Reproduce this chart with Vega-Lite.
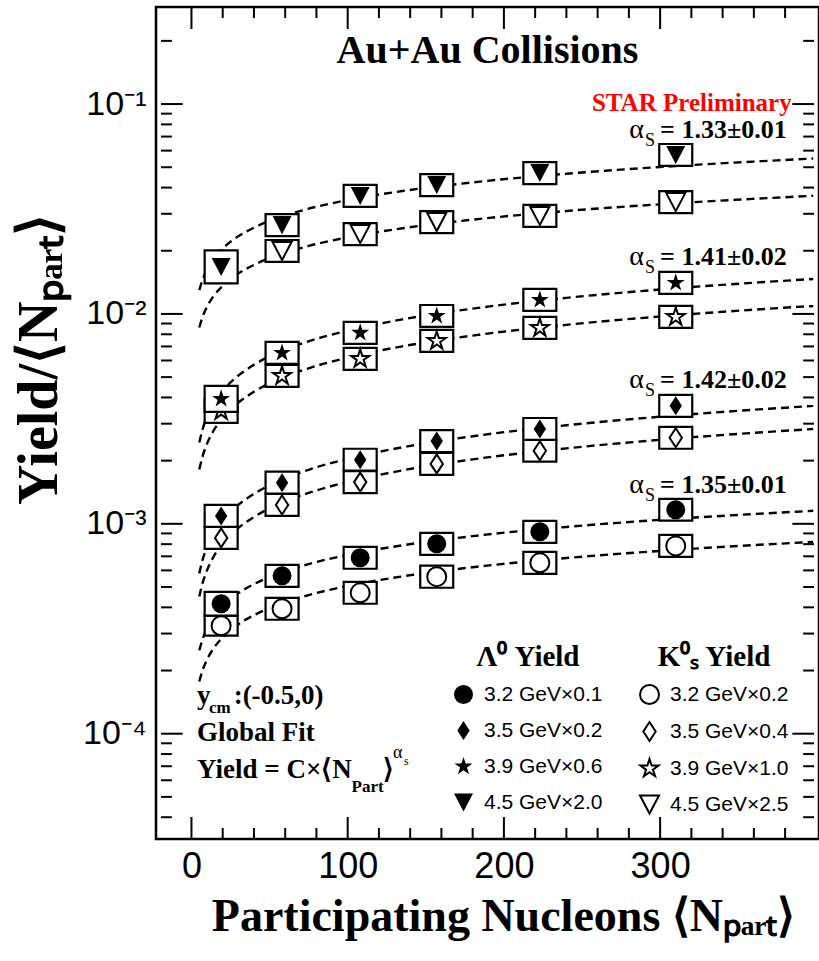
{
  "$schema": "https://vega.github.io/schema/vega-lite/v6.json",
  "width": 663,
  "height": 832,
  "autosize": {"type": "none"},
  "padding": {"left": 156, "top": 7, "right": 0, "bottom": 122},
  "background": "white",
  "config": {
    "view": {"stroke": "black", "strokeWidth": 2.5},
    "axis": {"grid": false, "domain": false}
  },
  "title": {
    "text": "Au+Au Collisions",
    "font": "Liberation Serif",
    "fontSize": 40,
    "fontWeight": "bold",
    "color": "black",
    "anchor": "middle",
    "frame": "group",
    "orient": "top",
    "baseline": "alphabetic",
    "offset": -97
  },
  "datasets": {
    "ticks": [
      {"a": "y", "k": "min", "v": 0.00004}, {"a": "y", "k": "min", "v": 0.00005}, {"a": "y", "k": "min", "v": 0.00006}, {"a": "y", "k": "min", "v": 0.00007}, {"a": "y", "k": "min", "v": 0.00008}, {"a": "y", "k": "min", "v": 0.00009},
      {"a": "y", "k": "maj", "v": 0.0001},
      {"a": "y", "k": "min", "v": 0.0002}, {"a": "y", "k": "min", "v": 0.0003}, {"a": "y", "k": "min", "v": 0.0004}, {"a": "y", "k": "min", "v": 0.0005}, {"a": "y", "k": "min", "v": 0.0006}, {"a": "y", "k": "min", "v": 0.0007}, {"a": "y", "k": "min", "v": 0.0008}, {"a": "y", "k": "min", "v": 0.0009},
      {"a": "y", "k": "maj", "v": 0.001},
      {"a": "y", "k": "min", "v": 0.002}, {"a": "y", "k": "min", "v": 0.003}, {"a": "y", "k": "min", "v": 0.004}, {"a": "y", "k": "min", "v": 0.005}, {"a": "y", "k": "min", "v": 0.006}, {"a": "y", "k": "min", "v": 0.007}, {"a": "y", "k": "min", "v": 0.008}, {"a": "y", "k": "min", "v": 0.009},
      {"a": "y", "k": "maj", "v": 0.01},
      {"a": "y", "k": "min", "v": 0.02}, {"a": "y", "k": "min", "v": 0.03}, {"a": "y", "k": "min", "v": 0.04}, {"a": "y", "k": "min", "v": 0.05}, {"a": "y", "k": "min", "v": 0.06}, {"a": "y", "k": "min", "v": 0.07}, {"a": "y", "k": "min", "v": 0.08}, {"a": "y", "k": "min", "v": 0.09},
      {"a": "y", "k": "maj", "v": 0.1},
      {"a": "y", "k": "min", "v": 0.2},
      {"a": "x", "k": "maj", "v": 0}, {"a": "x", "k": "min", "v": 20}, {"a": "x", "k": "min", "v": 40}, {"a": "x", "k": "min", "v": 60}, {"a": "x", "k": "min", "v": 80},
      {"a": "x", "k": "maj", "v": 100}, {"a": "x", "k": "min", "v": 120}, {"a": "x", "k": "min", "v": 140}, {"a": "x", "k": "min", "v": 160}, {"a": "x", "k": "min", "v": 180},
      {"a": "x", "k": "maj", "v": 200}, {"a": "x", "k": "min", "v": 220}, {"a": "x", "k": "min", "v": 240}, {"a": "x", "k": "min", "v": 260}, {"a": "x", "k": "min", "v": 280},
      {"a": "x", "k": "maj", "v": 300}, {"a": "x", "k": "min", "v": 320}, {"a": "x", "k": "min", "v": 340}, {"a": "x", "k": "min", "v": 360}, {"a": "x", "k": "min", "v": 380}
    ],
    "pts": [
      {"p": "L", "s": "4.5 GeV×2.0", "x": 19, "y": 0.01675, "lo": 0.01398, "hi": 0.02007},
      {"p": "L", "s": "4.5 GeV×2.0", "x": 58, "y": 0.0265, "lo": 0.02349, "hi": 0.02989},
      {"p": "L", "s": "4.5 GeV×2.0", "x": 108, "y": 0.0365, "lo": 0.03236, "hi": 0.04117},
      {"p": "L", "s": "4.5 GeV×2.0", "x": 157, "y": 0.0411, "lo": 0.03644, "hi": 0.04636},
      {"p": "L", "s": "4.5 GeV×2.0", "x": 223, "y": 0.0469, "lo": 0.04158, "hi": 0.0529},
      {"p": "L", "s": "4.5 GeV×2.0", "x": 310, "y": 0.0572, "lo": 0.05071, "hi": 0.06452},
      {"p": "K", "s": "4.5 GeV×2.5", "x": 58, "y": 0.01995, "lo": 0.01769, "hi": 0.0225},
      {"p": "K", "s": "4.5 GeV×2.5", "x": 108, "y": 0.024, "lo": 0.02128, "hi": 0.02707},
      {"p": "K", "s": "4.5 GeV×2.5", "x": 157, "y": 0.0274, "lo": 0.02429, "hi": 0.03091},
      {"p": "K", "s": "4.5 GeV×2.5", "x": 223, "y": 0.0293, "lo": 0.02597, "hi": 0.03305},
      {"p": "K", "s": "4.5 GeV×2.5", "x": 310, "y": 0.0341, "lo": 0.03023, "hi": 0.03846},
      {"p": "L", "s": "3.9 GeV×0.6", "x": 19, "y": 0.00394, "lo": 0.003417, "hi": 0.004543},
      {"p": "L", "s": "3.9 GeV×0.6", "x": 58, "y": 0.00652, "lo": 0.00578, "hi": 0.007355},
      {"p": "L", "s": "3.9 GeV×0.6", "x": 108, "y": 0.00813, "lo": 0.007207, "hi": 0.009171},
      {"p": "L", "s": "3.9 GeV×0.6", "x": 157, "y": 0.00978, "lo": 0.00867, "hi": 0.011032},
      {"p": "L", "s": "3.9 GeV×0.6", "x": 223, "y": 0.01166, "lo": 0.010337, "hi": 0.013152},
      {"p": "L", "s": "3.9 GeV×0.6", "x": 310, "y": 0.01406, "lo": 0.012464, "hi": 0.01586},
      {"p": "K", "s": "3.9 GeV×1.0", "x": 19, "y": 0.00345, "lo": 0.003026, "hi": 0.003933},
      {"p": "K", "s": "3.9 GeV×1.0", "x": 58, "y": 0.00507, "lo": 0.004495, "hi": 0.005719},
      {"p": "K", "s": "3.9 GeV×1.0", "x": 108, "y": 0.00611, "lo": 0.005417, "hi": 0.006892},
      {"p": "K", "s": "3.9 GeV×1.0", "x": 157, "y": 0.00744, "lo": 0.006596, "hi": 0.008392},
      {"p": "K", "s": "3.9 GeV×1.0", "x": 223, "y": 0.00858, "lo": 0.007606, "hi": 0.009678},
      {"p": "K", "s": "3.9 GeV×1.0", "x": 310, "y": 0.00968, "lo": 0.008581, "hi": 0.010919},
      {"p": "L", "s": "3.5 GeV×0.2", "x": 19, "y": 0.00109, "lo": 0.000966, "hi": 0.00123},
      {"p": "L", "s": "3.5 GeV×0.2", "x": 58, "y": 0.00157, "lo": 0.001392, "hi": 0.001771},
      {"p": "L", "s": "3.5 GeV×0.2", "x": 108, "y": 0.00202, "lo": 0.001791, "hi": 0.002279},
      {"p": "L", "s": "3.5 GeV×0.2", "x": 157, "y": 0.00248, "lo": 0.002199, "hi": 0.002797},
      {"p": "L", "s": "3.5 GeV×0.2", "x": 223, "y": 0.00283, "lo": 0.002509, "hi": 0.003192},
      {"p": "L", "s": "3.5 GeV×0.2", "x": 310, "y": 0.00365, "lo": 0.003236, "hi": 0.004117},
      {"p": "K", "s": "3.5 GeV×0.4", "x": 19, "y": 0.000857, "lo": 0.00076, "hi": 0.000967},
      {"p": "K", "s": "3.5 GeV×0.4", "x": 58, "y": 0.00123, "lo": 0.00109, "hi": 0.001387},
      {"p": "K", "s": "3.5 GeV×0.4", "x": 108, "y": 0.00158, "lo": 0.001401, "hi": 0.001782},
      {"p": "K", "s": "3.5 GeV×0.4", "x": 157, "y": 0.00193, "lo": 0.001711, "hi": 0.002177},
      {"p": "K", "s": "3.5 GeV×0.4", "x": 223, "y": 0.00223, "lo": 0.001977, "hi": 0.002515},
      {"p": "K", "s": "3.5 GeV×0.4", "x": 310, "y": 0.00257, "lo": 0.002278, "hi": 0.002899},
      {"p": "L", "s": "3.2 GeV×0.1", "x": 19, "y": 0.000416, "lo": 0.000365, "hi": 0.000474},
      {"p": "L", "s": "3.2 GeV×0.1", "x": 58, "y": 0.000565, "lo": 0.000501, "hi": 0.000637},
      {"p": "L", "s": "3.2 GeV×0.1", "x": 108, "y": 0.000689, "lo": 0.000611, "hi": 0.000777},
      {"p": "L", "s": "3.2 GeV×0.1", "x": 157, "y": 0.000803, "lo": 0.000712, "hi": 0.000906},
      {"p": "L", "s": "3.2 GeV×0.1", "x": 223, "y": 0.000916, "lo": 0.000812, "hi": 0.001033},
      {"p": "L", "s": "3.2 GeV×0.1", "x": 310, "y": 0.001167, "lo": 0.001035, "hi": 0.001316},
      {"p": "K", "s": "3.2 GeV×0.2", "x": 19, "y": 0.000327, "lo": 0.000293, "hi": 0.000365},
      {"p": "K", "s": "3.2 GeV×0.2", "x": 58, "y": 0.000394, "lo": 0.000349, "hi": 0.000444},
      {"p": "K", "s": "3.2 GeV×0.2", "x": 108, "y": 0.000469, "lo": 0.000416, "hi": 0.000529},
      {"p": "K", "s": "3.2 GeV×0.2", "x": 157, "y": 0.00056, "lo": 0.000496, "hi": 0.000632},
      {"p": "K", "s": "3.2 GeV×0.2", "x": 223, "y": 0.000652, "lo": 0.000578, "hi": 0.000735},
      {"p": "K", "s": "3.2 GeV×0.2", "x": 310, "y": 0.000785, "lo": 0.000696, "hi": 0.000885}
    ],
    "curves": [
      {"c": "L4.5", "x": 5, "y": 0.01298}, {"c": "L4.5", "x": 7, "y": 0.0145}, {"c": "L4.5", "x": 10, "y": 0.01631}, {"c": "L4.5", "x": 14, "y": 0.01823}, {"c": "L4.5", "x": 20, "y": 0.0205}, {"c": "L4.5", "x": 28, "y": 0.02291}, {"c": "L4.5", "x": 40, "y": 0.02577}, {"c": "L4.5", "x": 55, "y": 0.02863}, {"c": "L4.5", "x": 75, "y": 0.03172}, {"c": "L4.5", "x": 100, "y": 0.03488}, {"c": "L4.5", "x": 135, "y": 0.03851}, {"c": "L4.5", "x": 180, "y": 0.04234}, {"c": "L4.5", "x": 240, "y": 0.04656}, {"c": "L4.5", "x": 310, "y": 0.05066}, {"c": "L4.5", "x": 398, "y": 0.05501},
      {"c": "K4.5", "x": 5, "y": 0.00862}, {"c": "K4.5", "x": 7, "y": 0.00963}, {"c": "K4.5", "x": 10, "y": 0.01084}, {"c": "K4.5", "x": 14, "y": 0.01211}, {"c": "K4.5", "x": 20, "y": 0.01362}, {"c": "K4.5", "x": 28, "y": 0.01523}, {"c": "K4.5", "x": 40, "y": 0.01713}, {"c": "K4.5", "x": 55, "y": 0.01902}, {"c": "K4.5", "x": 75, "y": 0.02108}, {"c": "K4.5", "x": 100, "y": 0.02317}, {"c": "K4.5", "x": 135, "y": 0.02559}, {"c": "K4.5", "x": 180, "y": 0.02813}, {"c": "K4.5", "x": 240, "y": 0.03094}, {"c": "K4.5", "x": 310, "y": 0.03366}, {"c": "K4.5", "x": 398, "y": 0.03655},
      {"c": "L3.9", "x": 5, "y": 0.00244}, {"c": "L3.9", "x": 7, "y": 0.0028}, {"c": "L3.9", "x": 10, "y": 0.003241}, {"c": "L3.9", "x": 14, "y": 0.003721}, {"c": "L3.9", "x": 20, "y": 0.004307}, {"c": "L3.9", "x": 28, "y": 0.004944}, {"c": "L3.9", "x": 40, "y": 0.005722}, {"c": "L3.9", "x": 55, "y": 0.00652}, {"c": "L3.9", "x": 75, "y": 0.007405}, {"c": "L3.9", "x": 100, "y": 0.008331}, {"c": "L3.9", "x": 135, "y": 0.009422}, {"c": "L3.9", "x": 180, "y": 0.010602}, {"c": "L3.9", "x": 240, "y": 0.011928}, {"c": "L3.9", "x": 310, "y": 0.013249}, {"c": "L3.9", "x": 398, "y": 0.014678},
      {"c": "K3.9", "x": 5, "y": 0.001815}, {"c": "K3.9", "x": 7, "y": 0.002083}, {"c": "K3.9", "x": 10, "y": 0.002411}, {"c": "K3.9", "x": 14, "y": 0.002768}, {"c": "K3.9", "x": 20, "y": 0.003203}, {"c": "K3.9", "x": 28, "y": 0.003677}, {"c": "K3.9", "x": 40, "y": 0.004256}, {"c": "K3.9", "x": 55, "y": 0.00485}, {"c": "K3.9", "x": 75, "y": 0.005508}, {"c": "K3.9", "x": 100, "y": 0.006197}, {"c": "K3.9", "x": 135, "y": 0.007009}, {"c": "K3.9", "x": 180, "y": 0.007886}, {"c": "K3.9", "x": 240, "y": 0.008873}, {"c": "K3.9", "x": 310, "y": 0.009856}, {"c": "K3.9", "x": 398, "y": 0.010918},
      {"c": "L3.5", "x": 5, "y": 0.00058}, {"c": "L3.5", "x": 7, "y": 0.000668}, {"c": "L3.5", "x": 10, "y": 0.000776}, {"c": "L3.5", "x": 14, "y": 0.000894}, {"c": "L3.5", "x": 20, "y": 0.001038}, {"c": "L3.5", "x": 28, "y": 0.001196}, {"c": "L3.5", "x": 40, "y": 0.001389}, {"c": "L3.5", "x": 55, "y": 0.001588}, {"c": "L3.5", "x": 75, "y": 0.001809}, {"c": "L3.5", "x": 100, "y": 0.002041}, {"c": "L3.5", "x": 135, "y": 0.002315}, {"c": "L3.5", "x": 180, "y": 0.002613}, {"c": "L3.5", "x": 240, "y": 0.002948}, {"c": "L3.5", "x": 310, "y": 0.003283}, {"c": "L3.5", "x": 398, "y": 0.003646},
      {"c": "K3.5", "x": 5, "y": 0.00045}, {"c": "K3.5", "x": 7, "y": 0.000519}, {"c": "K3.5", "x": 10, "y": 0.000602}, {"c": "K3.5", "x": 14, "y": 0.000694}, {"c": "K3.5", "x": 20, "y": 0.000806}, {"c": "K3.5", "x": 28, "y": 0.000928}, {"c": "K3.5", "x": 40, "y": 0.001078}, {"c": "K3.5", "x": 55, "y": 0.001233}, {"c": "K3.5", "x": 75, "y": 0.001404}, {"c": "K3.5", "x": 100, "y": 0.001584}, {"c": "K3.5", "x": 135, "y": 0.001797}, {"c": "K3.5", "x": 180, "y": 0.002028}, {"c": "K3.5", "x": 240, "y": 0.002288}, {"c": "K3.5", "x": 310, "y": 0.002548}, {"c": "K3.5", "x": 398, "y": 0.00283},
      {"c": "L3.2", "x": 5, "y": 0.0002493}, {"c": "L3.2", "x": 7, "y": 0.0002804}, {"c": "L3.2", "x": 10, "y": 0.0003177}, {"c": "L3.2", "x": 14, "y": 0.0003574}, {"c": "L3.2", "x": 20, "y": 0.0004049}, {"c": "L3.2", "x": 28, "y": 0.0004555}, {"c": "L3.2", "x": 40, "y": 0.0005161}, {"c": "L3.2", "x": 55, "y": 0.000577}, {"c": "L3.2", "x": 75, "y": 0.0006431}, {"c": "L3.2", "x": 100, "y": 0.0007112}, {"c": "L3.2", "x": 135, "y": 0.00079}, {"c": "L3.2", "x": 180, "y": 0.0008737}, {"c": "L3.2", "x": 240, "y": 0.0009663}, {"c": "L3.2", "x": 310, "y": 0.0010567}, {"c": "L3.2", "x": 398, "y": 0.0011534},
      {"c": "K3.2", "x": 5, "y": 0.0001772}, {"c": "K3.2", "x": 7, "y": 0.0001994}, {"c": "K3.2", "x": 10, "y": 0.0002259}, {"c": "K3.2", "x": 14, "y": 0.0002541}, {"c": "K3.2", "x": 20, "y": 0.0002879}, {"c": "K3.2", "x": 28, "y": 0.0003239}, {"c": "K3.2", "x": 40, "y": 0.000367}, {"c": "K3.2", "x": 55, "y": 0.0004103}, {"c": "K3.2", "x": 75, "y": 0.0004573}, {"c": "K3.2", "x": 100, "y": 0.0005057}, {"c": "K3.2", "x": 135, "y": 0.0005617}, {"c": "K3.2", "x": 180, "y": 0.0006212}, {"c": "K3.2", "x": 240, "y": 0.0006871}, {"c": "K3.2", "x": 310, "y": 0.0007514}, {"c": "K3.2", "x": 398, "y": 0.0008201}
    ],
    "notes": [
      {"r": "val", "x": 381, "y": 0.07516, "t": "= 1.33±0.01"},
      {"r": "val", "x": 381, "y": 0.01868, "t": "= 1.41±0.02"},
      {"r": "val", "x": 381, "y": 0.00485, "t": "= 1.42±0.02"},
      {"r": "val", "x": 381, "y": 0.001534, "t": "= 1.35±0.01"},
      {"r": "alpha", "x": 280.2, "y": 0.07516, "t": "α"},
      {"r": "alpha", "x": 280.2, "y": 0.01868, "t": "α"},
      {"r": "alpha", "x": 280.2, "y": 0.00485, "t": "α"},
      {"r": "alpha", "x": 280.2, "y": 0.001534, "t": "α"},
      {"r": "sub", "x": 290.3, "y": 0.06665, "t": "S"},
      {"r": "sub", "x": 290.3, "y": 0.01656, "t": "S"},
      {"r": "sub", "x": 290.3, "y": 0.004299, "t": "S"},
      {"r": "sub", "x": 290.3, "y": 0.001359, "t": "S"},
      {"r": "star", "x": 384.2, "y": 0.1015, "t": "STAR Preliminary"},
      {"r": "note", "x": 3.6, "y": 0.0001517, "t": "y"},
      {"r": "note", "x": 27, "y": 0.0001517, "t": ":(-0.5,0)"},
      {"r": "note", "x": 3.6, "y": 0.0001011, "t": "Global Fit"},
      {"r": "note", "x": 3.6, "y": 0.0000674, "t": "Yield = C×⟨N"},
      {"r": "note", "x": 122.6, "y": 0.0000674, "t": "⟩"},
      {"r": "nsub", "x": 11.2, "y": 0.000133, "t": "cm"},
      {"r": "nsub", "x": 102.5, "y": 0.000056, "t": "Part"},
      {"r": "supa", "x": 129, "y": 0.0000813, "t": "α"},
      {"r": "supsub", "x": 136, "y": 0.0000743, "t": "s"}
    ]
  },
  "layer": [
    {
      "data": {"name": "curves"},
      "mark": {"type": "line", "strokeDash": [8, 5], "strokeWidth": 2.4, "color": "black", "interpolate": "monotone", "clip": true},
      "encoding": {
        "x": {
          "field": "x", "type": "quantitative",
          "scale": {"domain": [-19.5, 398.5], "nice": false, "zero": false},
          "axis": {
            "orient": "bottom",
            "values": [0, 100, 200, 300],
            "format": "d",
            "ticks": false, "tickSize": 0, "grid": false, "domain": false,
            "labelFont": "Liberation Sans", "labelFontSize": 36, "labelColor": "black",
            "labelPadding": 10, "labelOverlap": false, "labelFlush": false,
            "title": "Participating Nucleons  ⟨Nₚₐᵣₜ⟩",
            "titleFont": "Liberation Serif", "titleFontSize": 46, "titleFontWeight": "bold", "titleColor": "black",
            "titleX": 347, "titleY": 91, "titleBaseline": "alphabetic", "titleAnchor": "middle"
          }
        },
        "y": {
          "field": "y", "type": "quantitative",
          "scale": {"type": "log", "domain": [0.0000315, 0.29], "nice": false},
          "axis": {
            "orient": "left",
            "values": [0.0001, 0.001, 0.01, 0.1],
            "labelExpr": "datum.value == 0.1 ? '10⁻¹' : datum.value == 0.01 ? '10⁻²' : datum.value == 0.001 ? '10⁻³' : datum.value == 0.0001 ? '10⁻⁴' : ''",
            "ticks": false, "tickSize": 0, "grid": false, "domain": false,
            "labelFont": "Liberation Sans", "labelFontSize": 34, "labelColor": "black",
            "labelPadding": 10, "labelOverlap": false, "labelFlush": false,
            "title": "Yield/⟨Nₚₐᵣₜ⟩",
            "titleFont": "Liberation Serif", "titleFontSize": 56, "titleFontWeight": "bold", "titleColor": "black",
            "titleX": -100, "titleY": 352, "titleBaseline": "alphabetic", "titleAngle": 270, "titleAnchor": "middle"
          }
        },
        "detail": {"field": "c"}
      }
    },
    {
      "data": {"name": "ticks"},
      "transform": [{"filter": "datum.a == 'y' && datum.k == 'maj'"}],
      "mark": {"type": "rule", "color": "black", "strokeWidth": 2},
      "encoding": {
        "y": {"field": "v", "type": "quantitative", "axis": null},
        "x": {"datum": -19.5, "type": "quantitative", "axis": null},
        "x2": {"datum": -5.64}
      }
    },
    {
      "data": {"name": "ticks"},
      "transform": [{"filter": "datum.a == 'y' && datum.k == 'min'"}],
      "mark": {"type": "rule", "color": "black", "strokeWidth": 2},
      "encoding": {
        "y": {"field": "v", "type": "quantitative", "axis": null},
        "x": {"datum": -19.5, "type": "quantitative", "axis": null},
        "x2": {"datum": -12.57}
      }
    },
    {
      "data": {"name": "ticks"},
      "transform": [{"filter": "datum.a == 'y' && datum.k == 'maj'"}],
      "mark": {"type": "rule", "color": "black", "strokeWidth": 2},
      "encoding": {
        "y": {"field": "v", "type": "quantitative", "axis": null},
        "x": {"datum": 398.5, "type": "quantitative", "axis": null},
        "x2": {"datum": 384.64}
      }
    },
    {
      "data": {"name": "ticks"},
      "transform": [{"filter": "datum.a == 'y' && datum.k == 'min'"}],
      "mark": {"type": "rule", "color": "black", "strokeWidth": 2},
      "encoding": {
        "y": {"field": "v", "type": "quantitative", "axis": null},
        "x": {"datum": 398.5, "type": "quantitative", "axis": null},
        "x2": {"datum": 391.57}
      }
    },
    {
      "data": {"name": "ticks"},
      "transform": [{"filter": "datum.a == 'x' && datum.k == 'maj'"}],
      "mark": {"type": "rule", "color": "black", "strokeWidth": 2},
      "encoding": {
        "x": {"field": "v", "type": "quantitative", "axis": null},
        "y": {"datum": 0.0000315, "type": "quantitative", "axis": null},
        "y2": {"datum": 0.0000401}
      }
    },
    {
      "data": {"name": "ticks"},
      "transform": [{"filter": "datum.a == 'x' && datum.k == 'min'"}],
      "mark": {"type": "rule", "color": "black", "strokeWidth": 2},
      "encoding": {
        "x": {"field": "v", "type": "quantitative", "axis": null},
        "y": {"datum": 0.0000315, "type": "quantitative", "axis": null},
        "y2": {"datum": 0.00003553}
      }
    },
    {
      "data": {"name": "ticks"},
      "transform": [{"filter": "datum.a == 'x' && datum.k == 'maj'"}],
      "mark": {"type": "rule", "color": "black", "strokeWidth": 2},
      "encoding": {
        "x": {"field": "v", "type": "quantitative", "axis": null},
        "y": {"datum": 0.29, "type": "quantitative", "axis": null},
        "y2": {"datum": 0.2278}
      }
    },
    {
      "data": {"name": "ticks"},
      "transform": [{"filter": "datum.a == 'x' && datum.k == 'min'"}],
      "mark": {"type": "rule", "color": "black", "strokeWidth": 2},
      "encoding": {
        "x": {"field": "v", "type": "quantitative", "axis": null},
        "y": {"datum": 0.29, "type": "quantitative", "axis": null},
        "y2": {"datum": 0.2571}
      }
    },
    {
      "data": {"name": "pts"},
      "transform": [{"filter": "datum.p == 'K'"}],
      "mark": {"type": "bar", "width": 33, "fill": "white", "stroke": "black", "strokeWidth": 2.2},
      "encoding": {
        "x": {"field": "x", "type": "quantitative", "axis": null},
        "y": {"field": "lo", "type": "quantitative", "axis": null},
        "y2": {"field": "hi"}
      }
    },
    {
      "data": {"name": "pts"},
      "transform": [{"filter": "datum.p == 'K'"}],
      "mark": {"type": "point", "filled": false, "stroke": "black", "strokeWidth": 2, "size": 361, "opacity": 1},
      "encoding": {
        "x": {"field": "x", "type": "quantitative", "axis": null},
        "y": {"field": "y", "type": "quantitative", "axis": null},
        "shape": {
          "field": "s", "type": "nominal",
          "scale": {
            "domain": ["3.2 GeV×0.2", "3.5 GeV×0.4", "3.9 GeV×1.0", "4.5 GeV×2.5"],
            "range": ["circle", "M0,-1L0.65,0L0,1L-0.65,0Z", "M0,-1L0.2245,-0.309L0.9511,-0.309L0.3633,0.118L0.5878,0.809L0,0.382L-0.5878,0.809L-0.3633,0.118L-0.9511,-0.309L-0.2245,-0.309Z", "M-1,-0.95L1,-0.95L0,0.95Z"]
          },
          "legend": {
            "title": "K⁰ₛ Yield", "orient": "none", "legendX": 483, "legendY": 636,
            "titleFont": "Liberation Serif", "titleFontSize": 29, "titleFontWeight": "bold", "titleColor": "black",
            "titleAnchor": "middle", "titlePadding": 12,
            "labelFont": "Liberation Sans", "labelFontSize": 21, "labelColor": "black", "labelOffset": 10,
            "symbolSize": 361, "symbolStrokeColor": "black", "symbolStrokeWidth": 2, "rowPadding": 10, "padding": 0
          }
        }
      }
    },
    {
      "data": {"name": "pts"},
      "transform": [{"filter": "datum.p == 'L'"}],
      "mark": {"type": "bar", "width": 33, "fill": "white", "stroke": "black", "strokeWidth": 2.2},
      "encoding": {
        "x": {"field": "x", "type": "quantitative", "axis": null},
        "y": {"field": "lo", "type": "quantitative", "axis": null},
        "y2": {"field": "hi"}
      }
    },
    {
      "data": {"name": "pts"},
      "transform": [{"filter": "datum.p == 'L'"}],
      "mark": {"type": "point", "filled": true, "color": "black", "size": 361, "opacity": 1},
      "encoding": {
        "x": {"field": "x", "type": "quantitative", "axis": null},
        "y": {"field": "y", "type": "quantitative", "axis": null},
        "shape": {
          "field": "s", "type": "nominal",
          "scale": {
            "domain": ["3.2 GeV×0.1", "3.5 GeV×0.2", "3.9 GeV×0.6", "4.5 GeV×2.0"],
            "range": ["circle", "M0,-1L0.65,0L0,1L-0.65,0Z", "M0,-1L0.2245,-0.309L0.9511,-0.309L0.3633,0.118L0.5878,0.809L0,0.382L-0.5878,0.809L-0.3633,0.118L-0.9511,-0.309L-0.2245,-0.309Z", "M-1,-0.95L1,-0.95L0,0.95Z"]
          },
          "legend": {
            "title": "Λ⁰ Yield", "orient": "none", "legendX": 297, "legendY": 636,
            "titleFont": "Liberation Serif", "titleFontSize": 29, "titleFontWeight": "bold", "titleColor": "black",
            "titleAnchor": "middle", "titlePadding": 12,
            "labelFont": "Liberation Sans", "labelFontSize": 21, "labelColor": "black", "labelOffset": 10,
            "symbolSize": 361, "symbolFillColor": "black", "symbolStrokeWidth": 0, "rowPadding": 14, "padding": 0
          }
        }
      }
    },
    {
      "data": {"name": "notes"},
      "transform": [{"filter": "datum.r == 'val'"}],
      "mark": {"type": "text", "align": "right", "baseline": "middle", "font": "Liberation Serif", "fontSize": 26, "fontWeight": "bold", "color": "black"},
      "encoding": {
        "x": {"field": "x", "type": "quantitative", "axis": null},
        "y": {"field": "y", "type": "quantitative", "axis": null},
        "text": {"field": "t"}
      }
    },
    {
      "data": {"name": "notes"},
      "transform": [{"filter": "datum.r == 'alpha'"}],
      "mark": {"type": "text", "align": "left", "baseline": "middle", "font": "Liberation Serif", "fontSize": 28, "color": "black"},
      "encoding": {
        "x": {"field": "x", "type": "quantitative", "axis": null},
        "y": {"field": "y", "type": "quantitative", "axis": null},
        "text": {"field": "t"}
      }
    },
    {
      "data": {"name": "notes"},
      "transform": [{"filter": "datum.r == 'sub'"}],
      "mark": {"type": "text", "align": "left", "baseline": "middle", "font": "Liberation Serif", "fontSize": 18, "color": "black"},
      "encoding": {
        "x": {"field": "x", "type": "quantitative", "axis": null},
        "y": {"field": "y", "type": "quantitative", "axis": null},
        "text": {"field": "t"}
      }
    },
    {
      "data": {"name": "notes"},
      "transform": [{"filter": "datum.r == 'star'"}],
      "mark": {"type": "text", "align": "right", "baseline": "middle", "font": "Liberation Serif", "fontSize": 25, "fontWeight": "bold", "color": "#ff0000"},
      "encoding": {
        "x": {"field": "x", "type": "quantitative", "axis": null},
        "y": {"field": "y", "type": "quantitative", "axis": null},
        "text": {"field": "t"}
      }
    },
    {
      "data": {"name": "notes"},
      "transform": [{"filter": "datum.r == 'note'"}],
      "mark": {"type": "text", "align": "left", "baseline": "middle", "font": "Liberation Serif", "fontSize": 27, "fontWeight": "bold", "color": "black"},
      "encoding": {
        "x": {"field": "x", "type": "quantitative", "axis": null},
        "y": {"field": "y", "type": "quantitative", "axis": null},
        "text": {"field": "t"}
      }
    },
    {
      "data": {"name": "notes"},
      "transform": [{"filter": "datum.r == 'nsub'"}],
      "mark": {"type": "text", "align": "left", "baseline": "middle", "font": "Liberation Serif", "fontSize": 17, "fontWeight": "bold", "color": "black"},
      "encoding": {
        "x": {"field": "x", "type": "quantitative", "axis": null},
        "y": {"field": "y", "type": "quantitative", "axis": null},
        "text": {"field": "t"}
      }
    },
    {
      "data": {"name": "notes"},
      "transform": [{"filter": "datum.r == 'supa'"}],
      "mark": {"type": "text", "align": "left", "baseline": "middle", "font": "Liberation Serif", "fontSize": 18, "color": "black"},
      "encoding": {
        "x": {"field": "x", "type": "quantitative", "axis": null},
        "y": {"field": "y", "type": "quantitative", "axis": null},
        "text": {"field": "t"}
      }
    },
    {
      "data": {"name": "notes"},
      "transform": [{"filter": "datum.r == 'supsub'"}],
      "mark": {"type": "text", "align": "left", "baseline": "middle", "font": "Liberation Serif", "fontSize": 12, "color": "black"},
      "encoding": {
        "x": {"field": "x", "type": "quantitative", "axis": null},
        "y": {"field": "y", "type": "quantitative", "axis": null},
        "text": {"field": "t"}
      }
    }
  ],
  "resolve": {
    "scale": {"shape": "independent"},
    "axis": {"x": "independent", "y": "independent"},
    "legend": {"shape": "independent"}
  }
}
